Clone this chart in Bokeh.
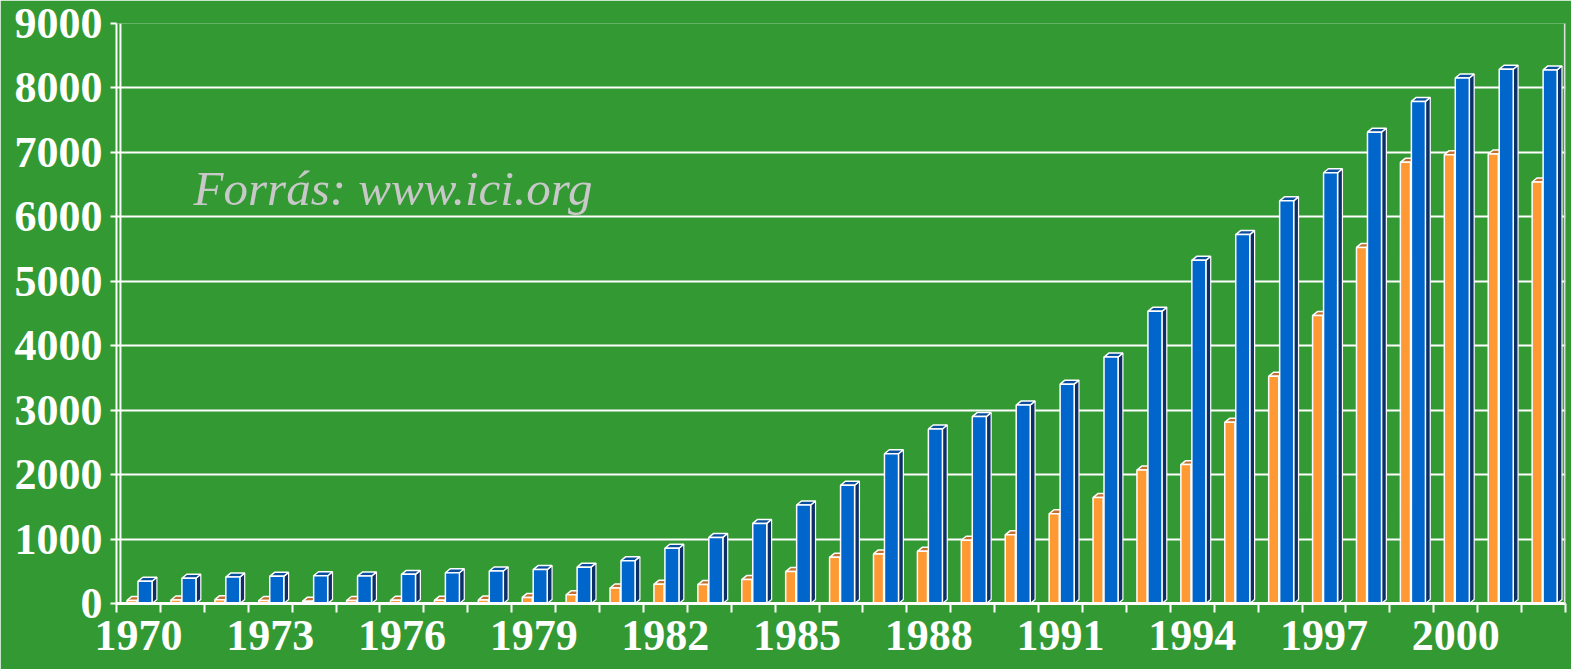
import re
import numpy as np
from bokeh.plotting import figure
from bokeh.models import FixedTicker, Span, Label, Range1d
from bokeh.embed import file_html
from bokeh.resources import INLINE

# ---- data ----
years = list(range(1970, 2003))
orange_values = [48, 55, 60, 47, 36, 46, 51, 49, 56, 95, 135, 241, 297, 293, 371,
                 495, 716, 769, 809, 981, 1065, 1393, 1643, 2070, 2155, 2811,
                 3526, 4468, 5525, 6846, 6965, 6975, 6540]
blue_values = [345, 392, 410, 421, 431, 426, 452, 477, 505, 526, 564, 665, 857,
               1026, 1243, 1528, 1835, 2324, 2708, 2900, 3079, 3403, 3824, 4534,
               5325, 5725, 6248, 6684, 7314, 7791, 8155, 8290, 8280]
y_tick_values = list(range(0, 10000, 1000))
x_label_years = [1970, 1973, 1976, 1979, 1982, 1985, 1988, 1991, 1994, 1997, 2000]
source_text = "Forrás: www.ici.org"

BG = "#339933"
n = len(years)
idx = np.arange(n)

W, H = 1571, 669
p = figure(width=W, height=H, output_backend="svg", toolbar_location=None,
           x_range=Range1d(-0.5, n - 0.5), y_range=Range1d(0, 9000),
           min_border_left=116, min_border_right=6, min_border_top=23,
           min_border_bottom=66)
p.background_fill_color = BG
p.border_fill_color = BG
p.outline_line_color = None

# grid
p.xgrid.visible = False
p.ygrid.ticker = FixedTicker(ticks=y_tick_values)
p.ygrid.grid_line_color = "white"
p.ygrid.grid_line_width = 2

# back wall edges
p.add_layout(Span(location=-0.41, dimension="height", line_color="white", line_width=2))
p.add_layout(Span(location=n - 0.52, dimension="height", line_color="#dddddd", line_width=1.5))

# 3D bars
DX = 0.11
DY = 62


def bars(vals, left_off, right_off, front, top, side):
    vals = np.array(vals, dtype=float)
    L = idx + left_off
    R = idx + right_off
    side_xs = [[r, r + DX, r + DX, r] for r in R]
    side_ys = [[0, DY, v + DY, v] for v in vals]
    p.patches(side_xs, side_ys, fill_color=side, line_color="white", line_width=1.2)
    top_xs = [[l, r, r + DX, l + DX] for l, r in zip(L, R)]
    top_ys = [[v, v, v + DY, v + DY] for v in vals]
    p.patches(top_xs, top_ys, fill_color=top, line_color="white", line_width=1.5)
    p.quad(left=L, right=R, bottom=0, top=vals, fill_color=front,
           line_color="white", line_width=1.5)


bars(orange_values, -0.26, -0.03, "#ff9933", "#c0702c", "#b0601c")
bars(blue_values, -0.01, 0.31, "#0066cc", "#0a4f9e", "#0b2f66")

# axes
FONT = "Liberation Serif"
for ax in (p.xaxis[0], p.yaxis[0]):
    ax.axis_line_color = "white"
    ax.major_tick_line_color = "white"
    ax.minor_tick_line_color = "white"
    ax.major_label_text_color = "white"
    ax.major_label_text_font = FONT
    ax.major_label_text_font_style = "bold"
    ax.major_label_text_font_size = "44px"

p.yaxis.ticker = FixedTicker(ticks=y_tick_values)
p.yaxis.axis_line_width = 2
p.yaxis.major_tick_line_width = 2
p.yaxis.major_tick_out = 6
p.yaxis.major_tick_in = 0
p.yaxis.minor_tick_out = 0
p.yaxis.major_label_standoff = 8

p.xaxis.ticker = FixedTicker(ticks=[years.index(y) for y in x_label_years],
                             minor_ticks=[i - 0.5 for i in range(n + 1)])
p.xaxis.major_label_overrides = {years.index(y): str(y) for y in x_label_years}
p.xaxis.axis_line_width = 3
p.xaxis.major_tick_out = 0
p.xaxis.major_tick_in = 0
p.xaxis.minor_tick_out = 9
p.xaxis.minor_tick_in = 0
p.xaxis.minor_tick_line_width = 2
p.xaxis.major_label_standoff = 8

p.add_layout(Label(x=1.256, y=6440, text=source_text, text_font=FONT,
                   text_font_style="italic", text_font_size="49px",
                   text_color="#c8c8c8", text_baseline="alphabetic"))

html = file_html(p, INLINE)
html = re.sub(r"<body([^>]*)>", r'<body\1 style="background-color:#339933;">', html, count=1)
open("out.html", "w").write(html)
